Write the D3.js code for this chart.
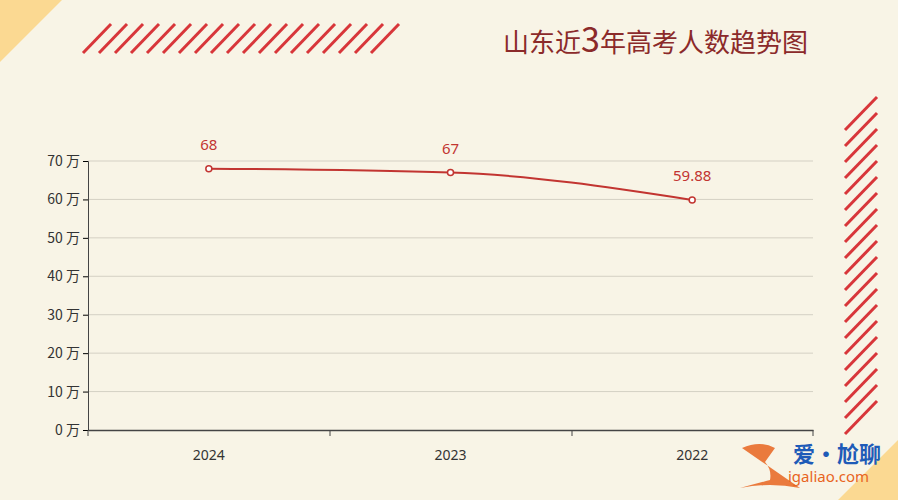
<!DOCTYPE html>
<html><head><meta charset="utf-8">
<script src="https://cdn.jsdelivr.net/npm/d3@7"></script>
<style>body{margin:0;background:#f8f4e6}</style></head>
<body><svg id="c" width="898" height="500"></svg>
<script>
const categories = ["2024","2023","2022"];
const values = [68,67,59.88];
const labels = ["68","67","59.88"];
const yTicks = [0,10,20,30,40,50,60,70];

const svg = d3.select("#c");
svg.append("rect").attr("width",898).attr("height",500).attr("fill","#f8f4e6");
svg.append("path").attr("d","M0,0L62,0L0,62Z").attr("fill","#fbd992");
svg.append("path").attr("d","M898,440L898,500L838,500Z").attr("fill","#fbd992");
// hatch top
const hg = svg.append("g").attr("stroke","#d8363a").attr("stroke-width",3);
d3.range(19).forEach(i=>{const x=83+i*16;hg.append("line").attr("x1",x).attr("y1",53).attr("x2",x+28).attr("y2",24);});
d3.range(20).forEach(i=>{const y=97+i*16;hg.append("line").attr("x1",845).attr("y1",y+33).attr("x2",877).attr("y2",y);});
svg.append("text").attr("x",808).attr("y",52).attr("text-anchor","end").attr("fill","#8b2a2a")
  .attr("font-family","Noto Sans CJK SC").attr("font-size",26)
  .html('山东近<tspan font-size="34">3</tspan>年高考人数趋势图');

const x = d3.scaleBand().domain(categories).range([88,813]);
const y = d3.scaleLinear().domain([0,70]).range([430,161]);
const grid = svg.append("g");
yTicks.slice(1).forEach(t=>grid.append("line").attr("x1",88).attr("x2",813).attr("y1",y(t)).attr("y2",y(t)).attr("stroke","#d4d0c4"));
const ya = svg.append("g").attr("transform","translate(88,0)").call(d3.axisLeft(y).tickValues(yTicks).tickFormat(d=>d+" 万").tickSize(5));
ya.select(".domain").attr("stroke","#444");
ya.selectAll("text").attr("font-family","Noto Sans CJK SC").attr("font-size",14).attr("fill","#333");
const xa = svg.append("g").attr("transform","translate(0,430)").call(d3.axisBottom(x).tickSize(0).tickPadding(20));
xa.select(".domain").attr("stroke","#444").attr("stroke-width",1.5);
xa.selectAll("text").attr("font-family","Noto Sans").attr("font-size",14).attr("fill","#333");
[88,330,572,813].forEach(v=>svg.append("line").attr("x1",v).attr("x2",v).attr("y1",430).attr("y2",436).attr("stroke","#444"));

const cx = d=>x(d)+x.bandwidth()/2;
const line = d3.line().x((d,i)=>cx(categories[i])).y(d=>y(d)).curve(d3.curveMonotoneX);
svg.append("path").attr("d",line(values)).attr("fill","none").attr("stroke","#c23531").attr("stroke-width",2);
values.forEach((v,i)=>{
  svg.append("circle").attr("cx",cx(categories[i])).attr("cy",y(v)).attr("r",3).attr("fill","#fff").attr("stroke","#c23531").attr("stroke-width",1.5);
  svg.append("text").attr("x",cx(categories[i])).attr("y",y(v)-19).attr("text-anchor","middle").attr("fill","#c23531")
    .attr("font-family","Noto Sans").attr("font-size",15).text(labels[i]);
});
svg.append("text").attr("x",793).attr("y",462).attr("fill","#1e5bb8").attr("font-family","Noto Sans CJK SC").attr("font-size",22).attr("font-weight","bold").text("爱·尬聊");
svg.append("text").attr("x",788).attr("y",482).attr("fill","#e8641e").attr("font-family","Noto Sans").attr("font-size",15).text("igaliao.com");
svg.append("path").attr("d","M742,448Q760,440 775,448L765,462Q772,470 770,480Q755,484 740,488Q770,482 800,488Z").attr("fill","#e8641e").attr("opacity",0.85);
</script></body></html>
